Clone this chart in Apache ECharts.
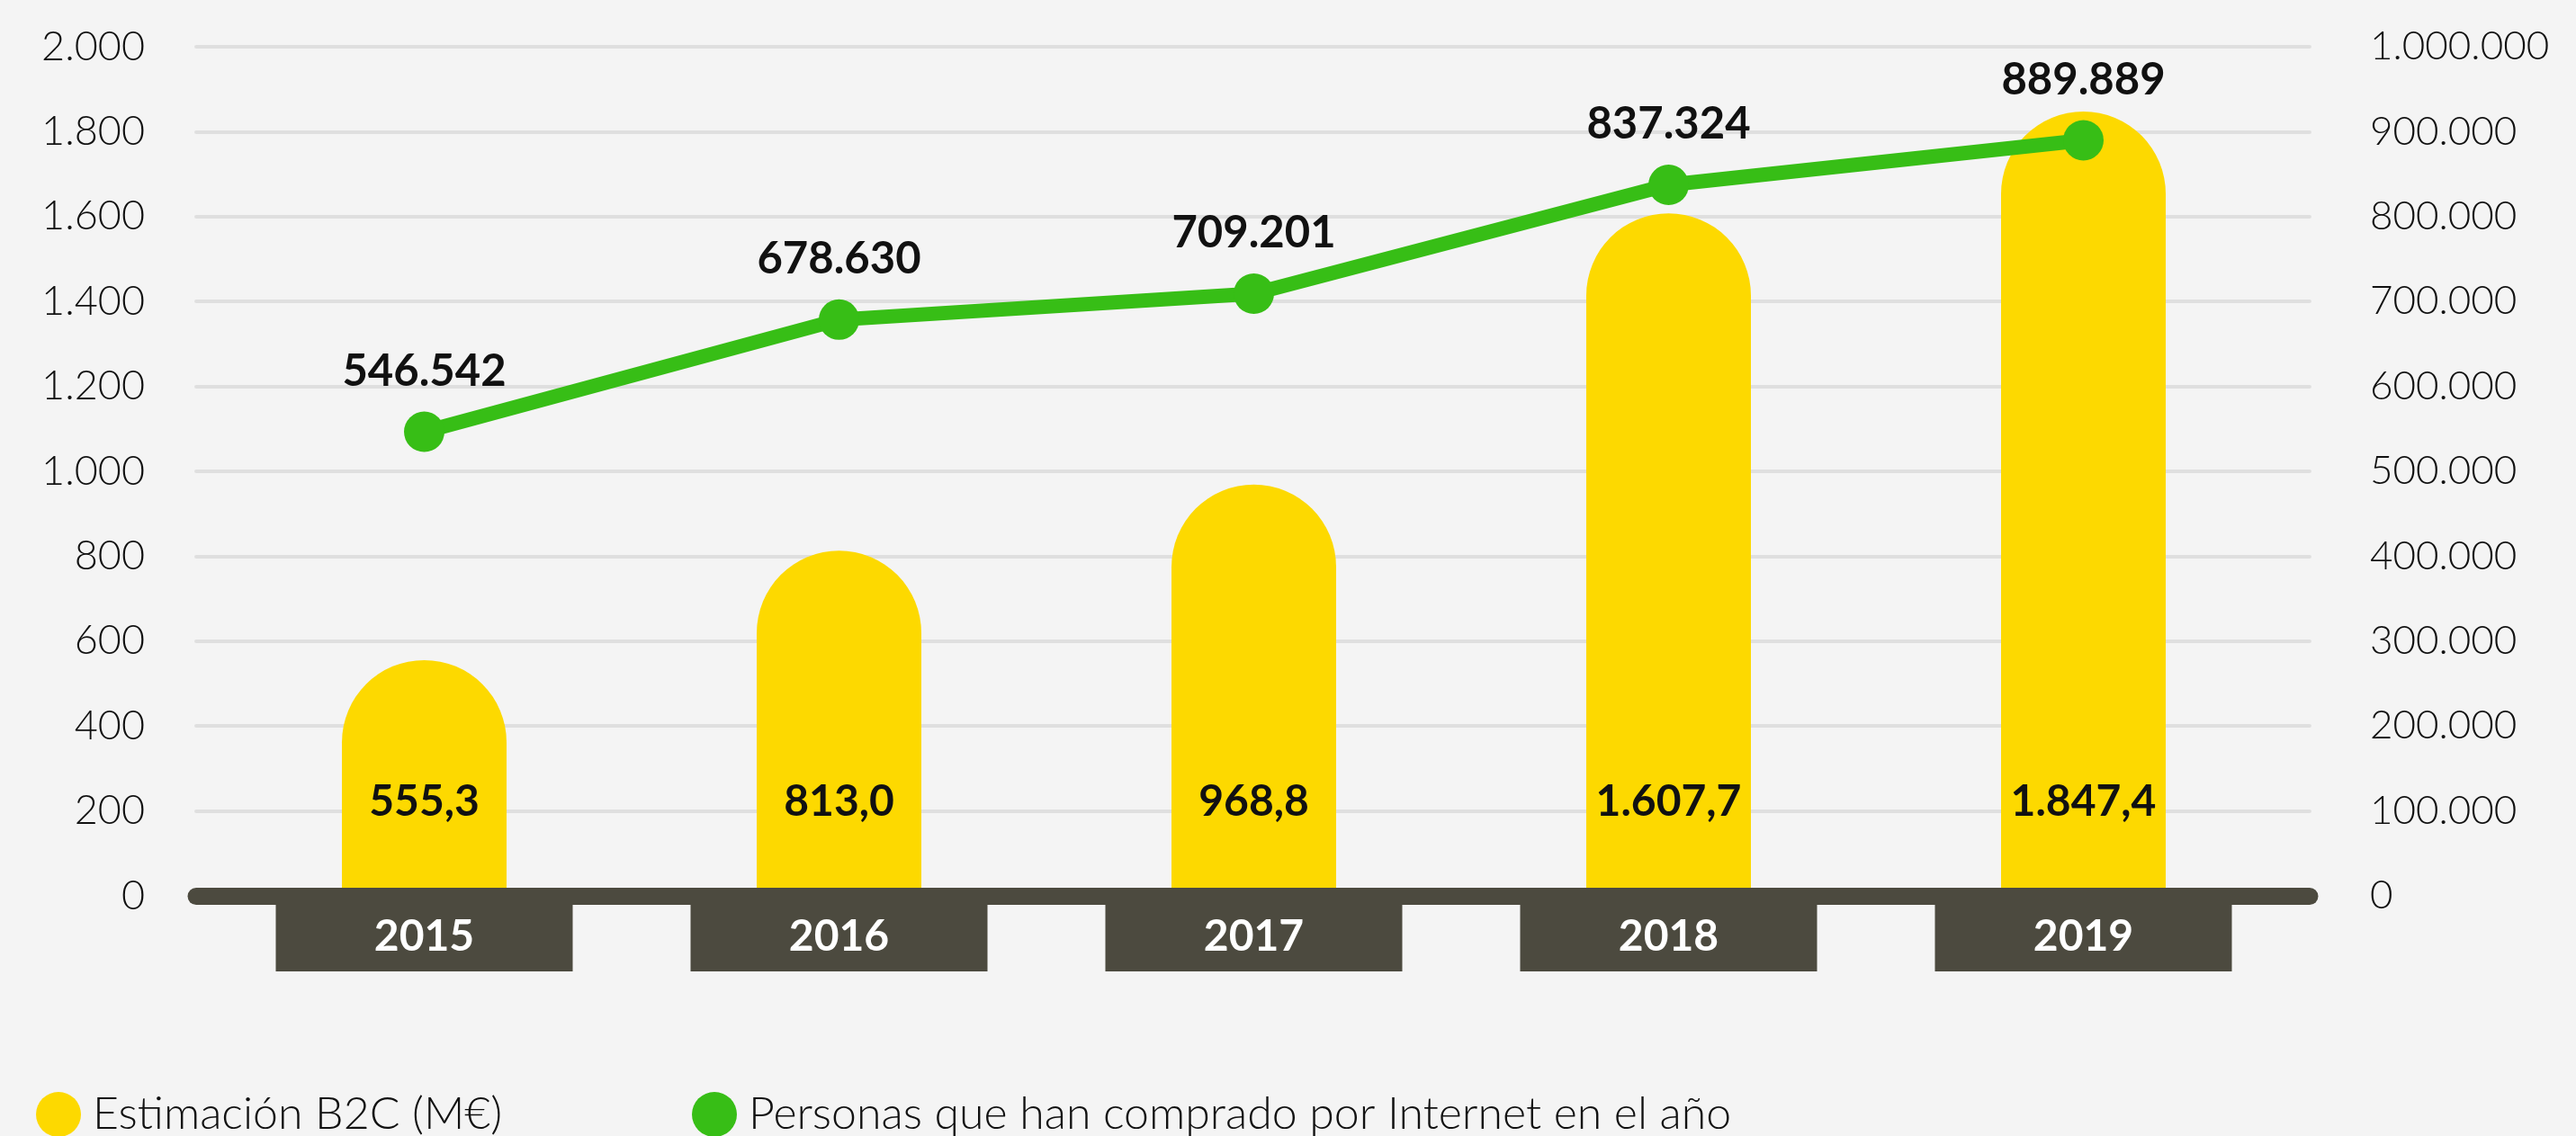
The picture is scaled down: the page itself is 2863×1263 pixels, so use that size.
<!DOCTYPE html>
<html>
<head>
<meta charset="utf-8">
<script src="https://cdn.jsdelivr.net/npm/echarts@6/dist/echarts.min.js"></script>
<style>
  html, body { margin: 0; padding: 0; background: #f4f4f4; }
  #chart { width: 2863px; height: 1263px; }
</style>
</head>
<body>
<div id="chart"></div>
<script>
// datos
const years = ['2015', '2016', '2017', '2018', '2019']
const b2c = [555.3, 813.0, 968.8, 1607.7, 1847.4]
const personas = [546542, 678630, 709201, 837324, 889889]
const seriesNames = ['Estimación B2C (M€)', 'Personas que han comprado por Internet en el año']

// formato español: 1.607,7 / 546.542
const miles = v => String(v).replace(/\B(?=(\d{3})+(?!\d))/g, '.')
const decimal = v => {
	const parts = v.toFixed(1).split('.')
	return miles(parts[0]) + ',' + parts[1]
}

const font = 'Lato, "Open Sans", sans-serif'
const chart = echarts.init(document.getElementById('chart'))

const options = {
	backgroundColor: '#f4f4f4',
	animation: false,
	textStyle: { fontFamily: font },
	legend: [
		{
			left: 35,
			top: 1209,
			icon: 'circle',
			itemWidth: 50,
			itemHeight: 50,
			data: [seriesNames[0]],
			textStyle: { fontSize: 50, color: '#111', fontWeight: 300, padding: [0, 0, 0, 8] }
		},
		{
			left: 764,
			top: 1209,
			icon: 'circle',
			itemWidth: 50,
			itemHeight: 50,
			data: [seriesNames[1]],
			textStyle: { fontSize: 50, color: '#111', fontWeight: 300, padding: [0, 0, 0, 8] }
		}
	],
	grid: [
		{ left: 218, right: 296, top: 52, bottom: 267 },
		{ left: 241, right: 317, top: 52, bottom: 267 }
	],
	xAxis: [
		{
			gridIndex: 0,
			type: 'value',
			min: 0,
			max: 1,
			z: 5,
			axisLine: { show: true, lineStyle: { color: '#4c4a3f', width: 19, cap: 'round' } },
			axisTick: { show: false },
			axisLabel: { show: false },
			splitLine: { show: false }
		},
		{
			gridIndex: 1,
			type: 'category',
			data: years,
			axisLine: { show: false },
			axisTick: { show: false },
			axisLabel: {
				interval: 0,
				margin: 0,
				width: 330,
				height: 76,
				lineHeight: 76,
				padding: [8, 0, 0, 0],
				align: 'center',
				backgroundColor: '#4c4a3f',
				color: '#fff',
				fontSize: 48,
				fontWeight: 'bold'
			}
		}
	],
	yAxis: [
		{
			gridIndex: 0,
			type: 'value',
			min: 0,
			max: 2000,
			interval: 200,
			axisLine: { show: false },
			axisTick: { show: false },
			axisLabel: { show: false },
			splitLine: { lineStyle: { color: '#dfdfdf', width: 4, cap: 'round' } }
		},
		{
			gridIndex: 1,
			type: 'value',
			position: 'left',
			min: 0,
			max: 2000,
			interval: 200,
			axisLine: { show: false },
			axisTick: { show: false },
			splitLine: { show: false },
			axisLabel: { margin: 80, fontSize: 45, fontWeight: 300, color: '#111', formatter: v => miles(v) }
		},
		{
			gridIndex: 1,
			type: 'value',
			position: 'right',
			min: 0,
			max: 1000000,
			interval: 100000,
			axisLine: { show: false },
			axisTick: { show: false },
			splitLine: { show: false },
			axisLabel: { margin: 88, fontSize: 44, fontWeight: 300, color: '#111', formatter: v => miles(v) }
		}
	],
	series: [
		{
			name: seriesNames[0],
			type: 'bar',
			xAxisIndex: 1,
			yAxisIndex: 1,
			data: b2c,
			barWidth: 183,
			itemStyle: { color: '#fdd900', borderRadius: [92, 92, 0, 0] },
			label: {
				show: true,
				position: 'insideBottom',
				distance: 80,
				fontSize: 48,
				fontWeight: 'bold',
				color: '#111',
				formatter: p => decimal(p.value)
			}
		},
		{
			name: seriesNames[1],
			type: 'line',
			xAxisIndex: 1,
			yAxisIndex: 2,
			data: personas,
			z: 4,
			symbol: 'circle',
			symbolSize: 45,
			lineStyle: { color: '#37be16', width: 16 },
			itemStyle: { color: '#37be16' },
			label: {
				show: true,
				position: 'top',
				distance: 20,
				fontSize: 49,
				fontWeight: 'bold',
				color: '#111',
				formatter: p => miles(p.value)
			}
		}
	]
}

chart.setOption(options)
</script>
</body>
</html>
